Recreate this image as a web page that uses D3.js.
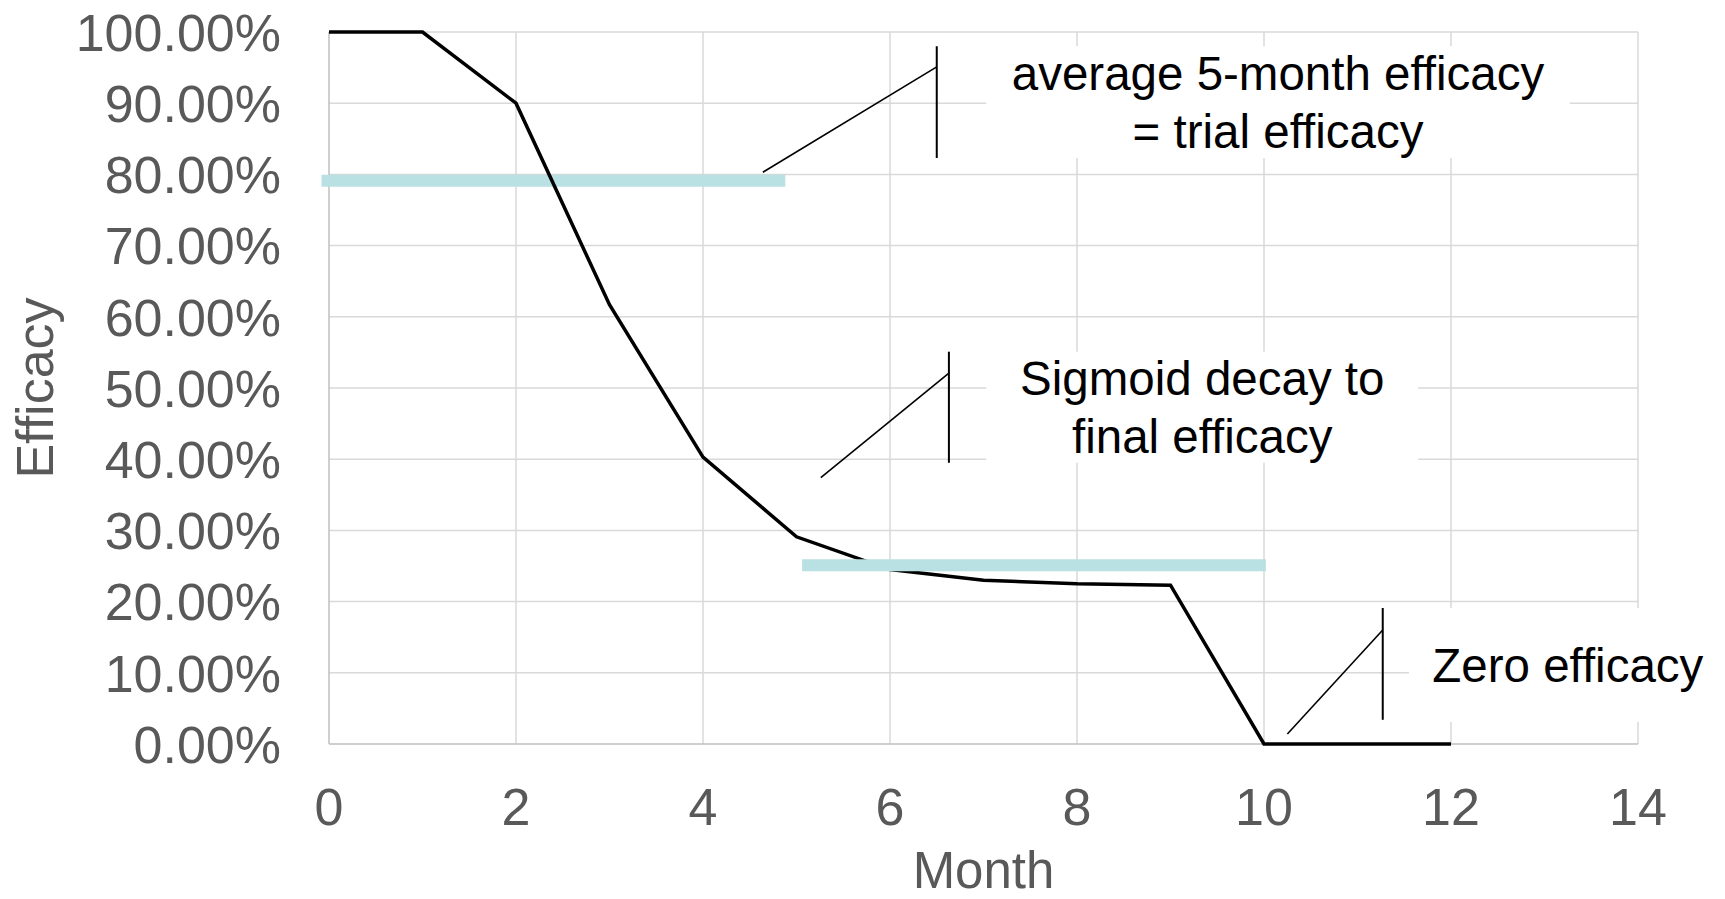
<!DOCTYPE html>
<html>
<head>
<meta charset="utf-8">
<script src="https://cdn.jsdelivr.net/npm/d3@7"></script>
<style>
  html, body { margin: 0; padding: 0; background: #fff; }
  svg { display: block; }
  text { font-family: "Liberation Sans", Arial, sans-serif; }
</style>
</head>
<body>
<svg id="chart" width="1725" height="899"></svg>
<script>
// ---- Data ----
const months = [0, 1, 2, 3, 4, 5, 6, 7, 8, 9, 10, 11, 12];
const efficacy = [1.00, 1.00, 0.900, 0.617, 0.403, 0.291, 0.245, 0.230, 0.225, 0.223, 0.00, 0.00, 0.00];

// reference bars (average efficacy levels)
const avgTrialRange = [-0.08, 4.88];
const avgTrialValue = 0.791;
const finalRange = [5.06, 10.02];
const finalValue = 0.251;

const xTicks = [0, 2, 4, 6, 8, 10, 12, 14];
const yTicks = [0, 0.1, 0.2, 0.3, 0.4, 0.5, 0.6, 0.7, 0.8, 0.9, 1.0];

const xTitle = "Month";
const yTitle = "Efficacy";

// callouts (in data units)
const callouts = [
  { lines: ["average 5-month efficacy", "= trial efficacy"], anchor: "middle",
    textX: 10.15, tail: [4.64, 0.803], head: [6.50, 0.951], bar: [0.980, 0.823],
    box: [7.03, 13.27, 0.980, 0.823] },
  { lines: ["Sigmoid decay to", "final efficacy"], anchor: "middle",
    textX: 9.34, tail: [5.26, 0.374], head: [6.63, 0.521], bar: [0.551, 0.395],
    box: [7.03, 11.65, 0.551, 0.395] },
  { lines: ["Zero efficacy"], anchor: "start",
    textX: 11.80, tail: [10.25, 0.014], head: [11.27, 0.160], bar: [0.191, 0.034],
    box: [11.55, 14.5, 0.191, 0.031] }
];

// ---- Layout ----
const svg = d3.select("#chart");
const x = d3.scaleLinear().domain([0, 14]).range([329, 1638]);
const y = d3.scaleLinear().domain([0, 1]).range([744, 32]);

const gridColor = "#d9d9d9";
const axisColor = "#bfbfbf";
const labelColor = "#595959";
const teal = "#b9e0e2";

// gridlines
svg.append("g").selectAll("line").data(yTicks.filter(d => d > 0)).join("line")
  .attr("x1", x(0)).attr("x2", x(14))
  .attr("y1", d => y(d)).attr("y2", d => y(d))
  .attr("stroke", gridColor).attr("stroke-width", 1.5);
svg.append("g").selectAll("line").data(xTicks.filter(d => d > 0)).join("line")
  .attr("x1", d => x(d)).attr("x2", d => x(d))
  .attr("y1", y(0)).attr("y2", y(1))
  .attr("stroke", gridColor).attr("stroke-width", 1.5);

// axes lines
svg.append("line").attr("x1", x(0)).attr("x2", x(0)).attr("y1", y(0)).attr("y2", y(1))
  .attr("stroke", axisColor).attr("stroke-width", 1.5);
svg.append("line").attr("x1", x(0)).attr("x2", x(14)).attr("y1", y(0)).attr("y2", y(0))
  .attr("stroke", axisColor).attr("stroke-width", 1.5);

// y tick labels
const fmt = d3.format(".2%");
svg.append("g").selectAll("text").data(yTicks).join("text")
  .attr("x", 281).attr("y", d => y(d))
  .attr("dy", "0.36em")
  .attr("text-anchor", "end")
  .attr("font-size", 52).attr("fill", labelColor)
  .text(d => fmt(d));

// x tick labels
svg.append("g").selectAll("text").data(xTicks).join("text")
  .attr("x", d => x(d)).attr("y", 825)
  .attr("text-anchor", "middle")
  .attr("font-size", 52).attr("fill", labelColor)
  .text(d => d);

// axis titles
svg.append("text").attr("x", (x(0) + x(14)) / 2).attr("y", 888)
  .attr("text-anchor", "middle").attr("font-size", 51).attr("fill", labelColor)
  .text(xTitle);
svg.append("text")
  .attr("transform", `translate(53,${(y(0) + y(1)) / 2}) rotate(-90)`)
  .attr("text-anchor", "middle").attr("font-size", 52).attr("fill", labelColor)
  .text(yTitle);

// callout white boxes
svg.append("g").selectAll("rect").data(callouts).join("rect")
  .attr("x", d => x(d.box[0])).attr("y", d => y(d.box[2]))
  .attr("width", d => x(d.box[1]) - x(d.box[0]))
  .attr("height", d => y(d.box[3]) - y(d.box[2]))
  .attr("fill", "#fff");

// teal bar 1 (under black line)
svg.append("line")
  .attr("x1", x(avgTrialRange[0])).attr("x2", x(avgTrialRange[1]))
  .attr("y1", y(avgTrialValue)).attr("y2", y(avgTrialValue))
  .attr("stroke", teal).attr("stroke-width", 12);

// data line
const line = d3.line().x((d, i) => x(months[i])).y(d => y(d));
svg.append("path").datum(efficacy)
  .attr("d", line)
  .attr("fill", "none").attr("stroke", "#000").attr("stroke-width", 3.5)
  .attr("stroke-linejoin", "miter");

// teal bar 2 (over black line)
svg.append("line")
  .attr("x1", x(finalRange[0])).attr("x2", x(finalRange[1]))
  .attr("y1", y(finalValue)).attr("y2", y(finalValue))
  .attr("stroke", teal).attr("stroke-width", 12);

// callout leaders, bars and texts
const cg = svg.append("g");
callouts.forEach(c => {
  cg.append("line")
    .attr("x1", x(c.tail[0])).attr("y1", y(c.tail[1]))
    .attr("x2", x(c.head[0])).attr("y2", y(c.head[1]))
    .attr("stroke", "#000").attr("stroke-width", 1.6);
  cg.append("line")
    .attr("x1", x(c.head[0])).attr("x2", x(c.head[0]))
    .attr("y1", y(c.bar[0])).attr("y2", y(c.bar[1]))
    .attr("stroke", "#000").attr("stroke-width", 2);
  const top = y(c.box[2]), bot = y(c.box[3]);
  const lh = 58;
  const n = c.lines.length;
  const firstBase = (top + bot) / 2 - (n - 1) * lh / 2 + 17;
  c.lines.forEach((t, i) => {
    cg.append("text")
      .attr("x", x(c.textX)).attr("y", firstBase + i * lh)
      .attr("text-anchor", c.anchor)
      .attr("font-size", 47.5).attr("fill", "#000")
      .text(t);
  });
});
</script>
</body>
</html>
